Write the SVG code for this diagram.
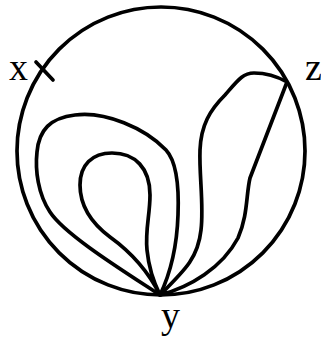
<svg xmlns="http://www.w3.org/2000/svg" width="321" height="344" viewBox="0 0 321 344">
<style>
.ln{fill:none;stroke:#000;stroke-width:3.7;stroke-linecap:round;stroke-linejoin:round}
.lb{font-family:"Liberation Serif",serif;font-size:38px;fill:#000}
</style>
<rect width="321" height="344" fill="#fff"/>
<g id="boundary">
<circle class="ln" cx="161" cy="151" r="144"/>
</g>
<g id="connectors">
<path class="ln" d="M160,295 C125,272 65,235 50,212 C38,194 35,170 37,152 C39,130 50,118 75,115 C105,111 145,128 166,150 C178,163 179,190 178,215 C177,245 172,270 160,295"/>
<path class="ln" d="M160,295 C150,275 135,255 110,237 C90,222 80,205 80,185 C80,165 92,153 112,153 C135,153 150,168 150,195 C150,215 145,230 147,250 C149,270 155,285 160,295"/>
<path class="ln" d="M160,295 C185,270 198,258 201,230 C204,205 199,175 200,150 C201,125 210,110 225,95 C238,80 243,73 254,73 C268,73 280,78 287,82 L250,178 C246,195 248,215 238,238 C222,268 190,287 160,295"/>
<path class="ln" d="M36,62 L53,80"/>
</g>
<g id="node-x"><text class="lb" x="9" y="80">x</text></g>
<g id="node-z"><text class="lb" x="305" y="80">z</text></g>
<g id="node-y"><text class="lb" x="161" y="328">y</text></g>
</svg>
